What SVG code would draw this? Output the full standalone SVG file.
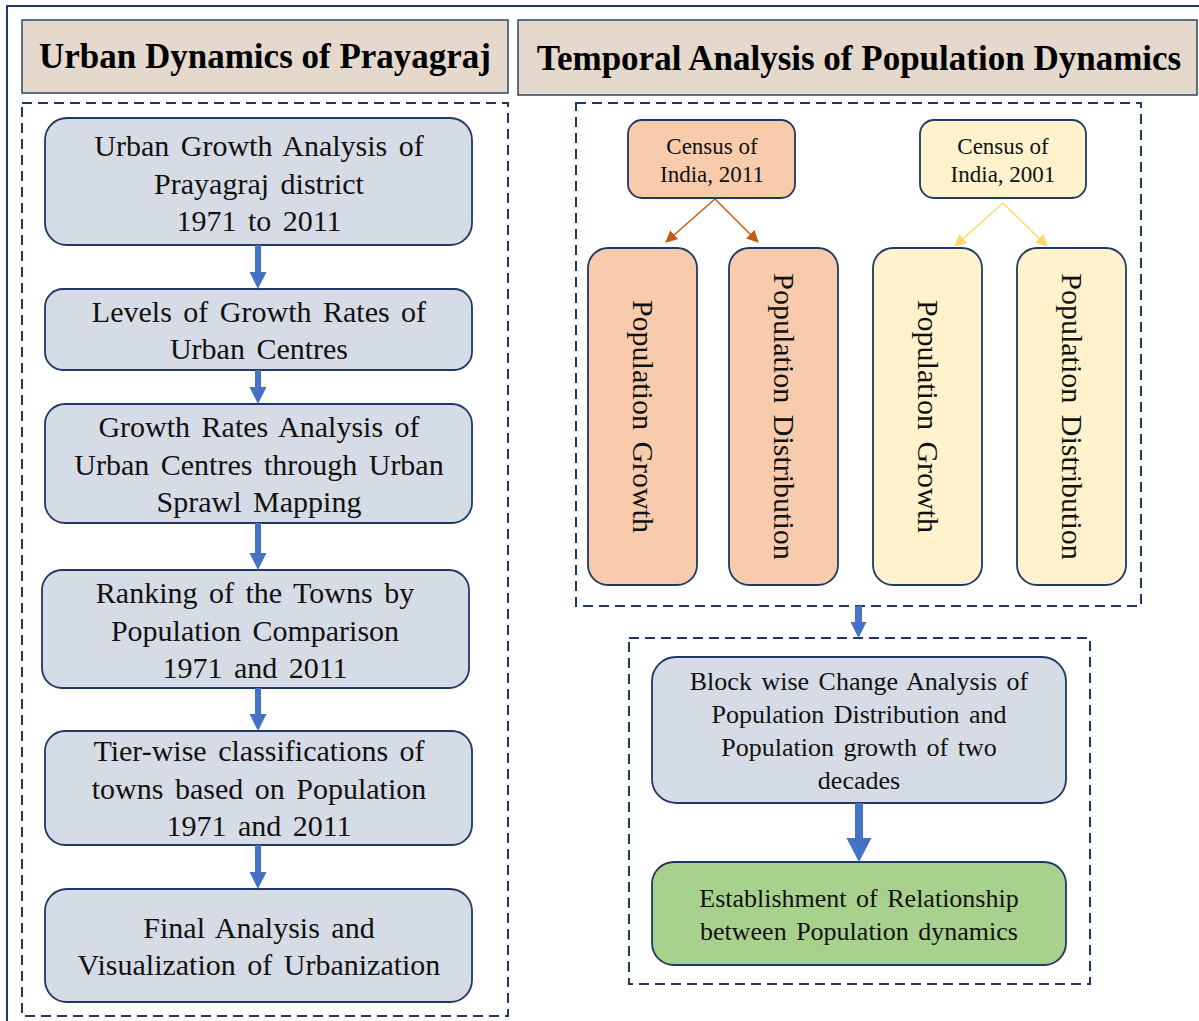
<svg xmlns="http://www.w3.org/2000/svg" width="1199" height="1021" viewBox="0 0 1199 1021">
<defs>
<style>
.frame{fill:none;stroke:#1F3864;stroke-width:2}
.dash{fill:none;stroke:#1F3864;stroke-width:2;stroke-dasharray:10 6}
.hdr{fill:#E5D8CC;stroke:#2F4562;stroke-width:1.5}
.htxt{font-family:"Liberation Serif","Times New Roman",serif;font-weight:bold;font-size:35px;fill:#000;text-anchor:middle}
.gray{fill:#D6DCE5;stroke:#1F3864;stroke-width:1.8}
.peach{fill:#F8CBAD;stroke:#1F3864;stroke-width:1.8}
.cream{fill:#FFF2CC;stroke:#1F3864;stroke-width:1.8}
.green{fill:#A9D18E;stroke:#1F3864;stroke-width:1.8}
.t30{font-family:"Liberation Serif","Times New Roman",serif;font-size:30px;fill:#111;text-anchor:middle;word-spacing:4px}
.t26{font-family:"Liberation Serif","Times New Roman",serif;font-size:26px;fill:#111;text-anchor:middle;word-spacing:3px}
.t23{font-family:"Liberation Serif","Times New Roman",serif;font-size:23px;fill:#111;text-anchor:middle}
.blue{fill:#4472C4}
</style>
<marker id="hOr" markerWidth="12" markerHeight="12" refX="11" refY="6" orient="auto" markerUnits="userSpaceOnUse" viewBox="0 0 12 12"><path d="M0,0 L12,6 L0,12 z" fill="#C55A11"/></marker>
<marker id="hYe" markerWidth="12" markerHeight="12" refX="11" refY="6" orient="auto" markerUnits="userSpaceOnUse" viewBox="0 0 12 12"><path d="M0,0 L12,6 L0,12 z" fill="#FFD966"/></marker>
</defs>
<rect width="1199" height="1021" fill="#fff"/>
<path class="frame" d="M7,1021 V6 H1199"/>

<g id="header-left"><rect class="hdr" x="22" y="20" width="486" height="73"/><text class="htxt" x="265" y="68">Urban Dynamics of Prayagraj</text></g>
<g id="header-right"><rect class="hdr" x="518" y="20" width="679" height="75"/><text class="htxt" x="859" y="70">Temporal Analysis of Population Dynamics</text></g>

<g id="left-container"><rect class="dash" x="22" y="103" width="486" height="913"/></g>
<g id="right-top-container"><rect class="dash" x="576" y="103" width="565" height="503"/></g>
<g id="right-bottom-container"><rect class="dash" x="629" y="638" width="461" height="346"/></g>

<g id="n1"><rect class="gray" x="45" y="118" width="427" height="127" rx="22"/>
<text class="t30"><tspan x="259" y="156">Urban Growth Analysis of</tspan><tspan x="259" y="193.5">Prayagraj district</tspan><tspan x="259" y="231">1971 to 2011</tspan></text></g>
<g id="n2"><rect class="gray" x="45" y="289" width="427" height="81" rx="18"/>
<text class="t30"><tspan x="259" y="322">Levels of Growth Rates of</tspan><tspan x="259" y="359">Urban Centres</tspan></text></g>
<g id="n3"><rect class="gray" x="45" y="404" width="427" height="119" rx="20"/>
<text class="t30"><tspan x="259" y="437">Growth Rates Analysis of</tspan><tspan x="259" y="475">Urban Centres through Urban</tspan><tspan x="259" y="512">Sprawl Mapping</tspan></text></g>
<g id="n4"><rect class="gray" x="42" y="570" width="427" height="118" rx="20"/>
<text class="t30"><tspan x="255" y="603">Ranking of the Towns by</tspan><tspan x="255" y="641">Population Comparison</tspan><tspan x="255" y="678">1971 and 2011</tspan></text></g>
<g id="n5"><rect class="gray" x="45" y="731" width="427" height="114" rx="20"/>
<text class="t30"><tspan x="259" y="761">Tier-wise classifications of</tspan><tspan x="259" y="799">towns based on Population</tspan><tspan x="259" y="836">1971 and 2011</tspan></text></g>
<g id="n6"><rect class="gray" x="45" y="889" width="427" height="113" rx="22"/>
<text class="t30"><tspan x="259" y="938">Final Analysis and</tspan><tspan x="259" y="975">Visualization of Urbanization</tspan></text></g>

<g id="census2011"><rect class="peach" x="628" y="120" width="167" height="78" rx="14"/>
<text class="t23"><tspan x="712" y="154">Census of</tspan><tspan x="712" y="182">India, 2011</tspan></text></g>
<g id="census2001"><rect class="cream" x="920" y="120" width="166" height="78" rx="14"/>
<text class="t23"><tspan x="1003" y="154">Census of</tspan><tspan x="1003" y="182">India, 2001</tspan></text></g>

<g id="pg2011"><rect class="peach" x="588" y="248" width="109" height="337" rx="20"/>
<text class="t30" transform="translate(642.5,416.5) rotate(90)" x="0" y="10">Population Growth</text></g>
<g id="pd2011"><rect class="peach" x="729" y="248" width="109" height="337" rx="20"/>
<text class="t30" transform="translate(783.5,416.5) rotate(90)" x="0" y="10">Population Distribution</text></g>
<g id="pg2001"><rect class="cream" x="873" y="248" width="109" height="337" rx="20"/>
<text class="t30" transform="translate(927.5,416.5) rotate(90)" x="0" y="10">Population Growth</text></g>
<g id="pd2001"><rect class="cream" x="1017" y="248" width="109" height="337" rx="20"/>
<text class="t30" transform="translate(1071.5,416.5) rotate(90)" x="0" y="10">Population Distribution</text></g>

<g id="blockwise"><rect class="gray" x="652" y="657" width="414" height="146" rx="24"/>
<text class="t26"><tspan x="859" y="690">Block wise Change Analysis of</tspan><tspan x="859" y="723">Population Distribution and</tspan><tspan x="859" y="756">Population growth of two</tspan><tspan x="859" y="789">decades</tspan></text></g>
<g id="relationship"><rect class="green" x="652" y="862" width="414" height="103" rx="22"/>
<text class="t26"><tspan x="859" y="907">Establishment of Relationship</tspan><tspan x="859" y="940">between Population dynamics</tspan></text></g>

<g id="connectors">
<path class="blue" d="M255,245 H261 V272 H266.5 L258,289 L249.5,272 H255 Z"/>
<path class="blue" d="M255,370 H261 V387 H266.5 L258,404 L249.5,387 H255 Z"/>
<path class="blue" d="M255,523 H261 V553 H266.5 L258,570 L249.5,553 H255 Z"/>
<path class="blue" d="M255,688 H261 V714 H266.5 L258,731 L249.5,714 H255 Z"/>
<path class="blue" d="M255,845 H261 V872 H266.5 L258,889 L249.5,872 H255 Z"/>
<path class="blue" d="M855,606 H862 V622 H866.5 L858.5,638 L850.5,622 H855 Z"/>
<path class="blue" d="M855,803 H863 V838 H871.5 L859,862 L846.5,838 H855 Z"/>
<line x1="715" y1="199" x2="666" y2="242" stroke="#C55A11" stroke-width="1.5" marker-end="url(#hOr)"/>
<line x1="715" y1="199" x2="758" y2="242" stroke="#C55A11" stroke-width="1.5" marker-end="url(#hOr)"/>
<line x1="1003" y1="203" x2="955" y2="246" stroke="#FFD966" stroke-width="1.5" marker-end="url(#hYe)"/>
<line x1="1003" y1="203" x2="1047" y2="246" stroke="#FFD966" stroke-width="1.5" marker-end="url(#hYe)"/>
</g>
</svg>
